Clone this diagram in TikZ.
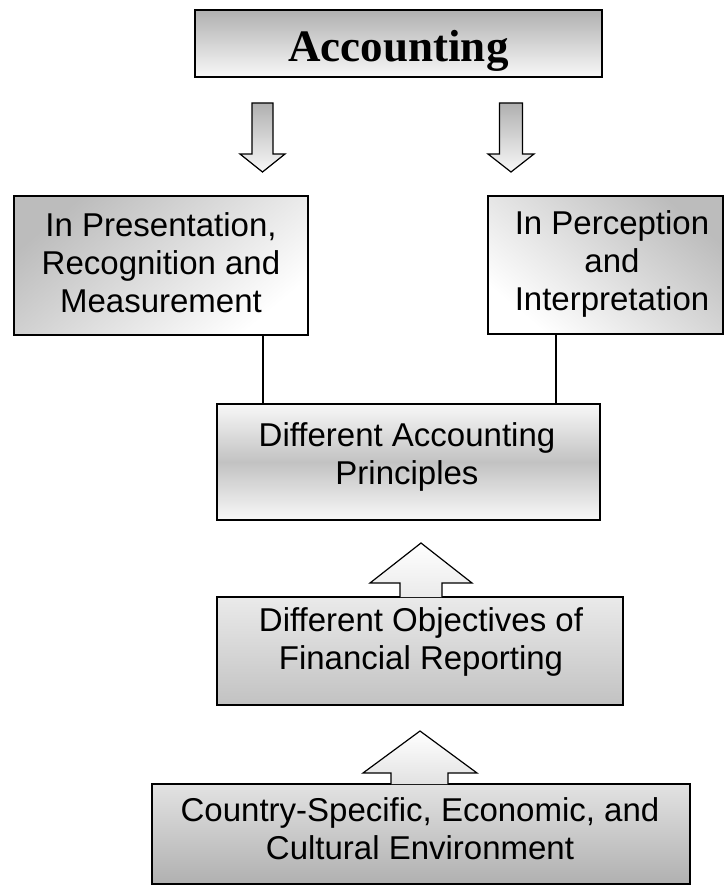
\documentclass[tikz,border=0pt]{standalone}
\usepackage{fontspec}
\setmainfont{Liberation Sans}
\newfontfamily\titlefont{Liberation Serif}
\definecolor{shadeA}{HTML}{B0B0B0}
\definecolor{shadeB}{HTML}{BCBCBC}
\definecolor{shadeC}{HTML}{C2C2C2}
\definecolor{paleA}{HTML}{F8F8F8}
\definecolor{paleB}{HTML}{EAEAEA}
\definecolor{paleC}{HTML}{E2E2E2}
\begin{document}
\begin{tikzpicture}[x=1pt,y=-1pt,
  frame/.style={rectangle, draw=black, line width=1.5pt, inner sep=0pt},
  boxtext/.style={align=center, inner sep=0pt, font=\fontsize{33}{38}\selectfont},
  link/.style={draw=black, line width=1.2pt},
  blockarrow/.style={draw=black, line width=1.2pt, line join=miter},
]
\useasboundingbox (0,0) rectangle (725,888);

% ---- top title box ----
\node[frame, minimum width=407pt, minimum height=67pt,
      top color=shadeA, bottom color=paleA] (acc) at (398.5,43.5) {};
\node[anchor=base, inner sep=0pt, font=\titlefont\bfseries\fontsize{45}{50}\selectfont]
      (acctxt) at (398.5,62) {Accounting};

% ---- downward block arrows ----
\draw[blockarrow, top color=shadeA, bottom color=paleA]
  (252,103) -- (273,103) -- (273,154) -- (285,154) -- (262.5,172)
  -- (240,154) -- (252,154) -- cycle;
\draw[blockarrow, top color=shadeA, bottom color=paleA]
  (499.5,103) -- (522.5,103) -- (522.5,154) -- (534,154) -- (511,172)
  -- (488,154) -- (499.5,154) -- cycle;

% ---- second row ----
\node[frame, minimum width=294pt, minimum height=139pt,
      top color=shadeB, bottom color=white, shading angle=40] (pres) at (161,265.5) {};
\node[boxtext] (prestxt) at (161,262.5) {In Presentation,\\Recognition and\\Measurement};

\node[frame, minimum width=235pt, minimum height=138pt,
      top color=shadeB, bottom color=white, shading angle=-40] (perc) at (605.5,265) {};
\node[boxtext] (perctxt) at (612,263.5) {In Perception\\and\\Interpretation};

% ---- principles box: pale edges, darker band in the middle ----
\node[frame, minimum width=383pt, minimum height=116pt,
      top color=paleA, bottom color=paleA, middle color=shadeC] (prin) at (408.5,462) {};
\node[boxtext] (printxt) at (407,457) {Different Accounting\\Principles};

\coordinate (lx) at (263,0);
\coordinate (rx) at (556,0);
\draw[link] (pres.south -| lx) -- (prin.north -| lx);
\draw[link] (perc.south -| rx) -- (prin.north -| rx);

% ---- objectives box with upward arrow ----
\node[frame, minimum width=406pt, minimum height=108pt,
      top color=paleB, bottom color=shadeC] (obj) at (420,651) {};
\node[boxtext] (objtxt) at (421,641.5) {Different Objectives of\\Financial Reporting};

\draw[blockarrow, top color=white, bottom color=paleB]
  (400,597) -- (400,583) -- (370,583) -- (421,543) -- (472,583)
  -- (442,583) -- (442,597);

% ---- environment box with upward arrow ----
\node[frame, minimum width=538pt, minimum height=100pt,
      top color=paleC, bottom color=shadeA] (env) at (421,834) {};
\node[boxtext] (envtxt) at (420,829) {Country-Specific, Economic, and\\Cultural Environment};

\draw[blockarrow, top color=white, bottom color=paleC]
  (391,784) -- (391,773) -- (363,773) -- (420,731) -- (477,773)
  -- (448,773) -- (448,784);
\end{tikzpicture}
\end{document}
